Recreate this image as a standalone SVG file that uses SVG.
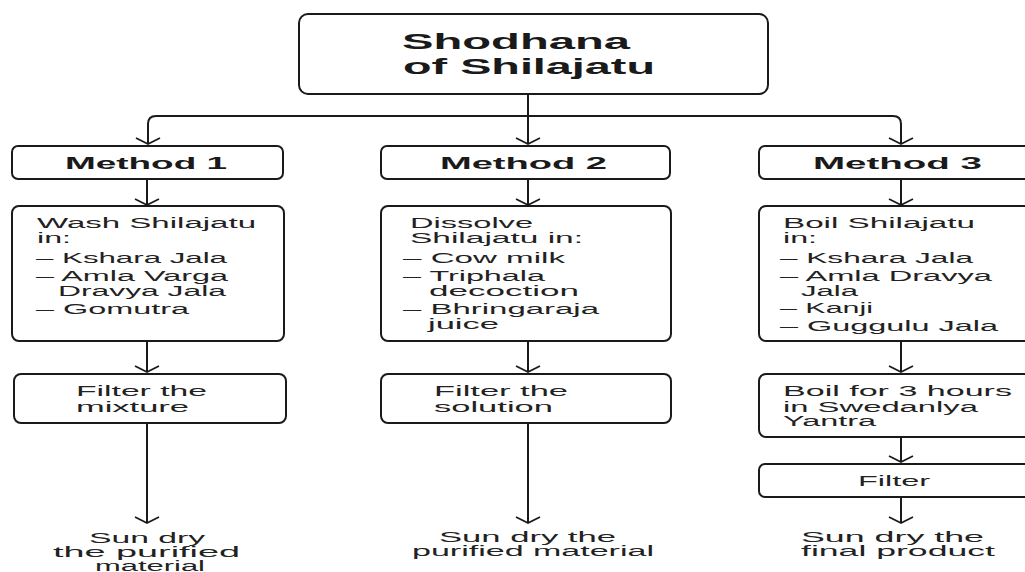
<svg xmlns="http://www.w3.org/2000/svg" width="1025" height="572" viewBox="0 0 1025 572">
<defs>
<style>
.box{fill:#fff;stroke:#1a1a1a;stroke-width:2}
.t{font-family:"Liberation Sans",Arial,sans-serif;fill:#1a1a1a}
.title{font-size:22px;font-weight:bold}
.m{font-size:17px;font-weight:bold}
.b{font-size:14px;fill:#222}
.c{fill:none;stroke:#1a1a1a;stroke-width:2}
</style>
<marker id="ah" markerUnits="userSpaceOnUse" markerWidth="30" markerHeight="30" viewBox="-15 -15 30 30" refX="0" refY="0" orient="auto">
<path d="M-6,-12 L0,0 L-6,12" fill="none" stroke="#1a1a1a" stroke-width="1.8"/>
</marker>
</defs>
<rect width="1025" height="572" fill="#fff"/>

<g id="connectors">
<path class="c" d="M528,94 V144" marker-end="url(#ah)"/>
<path class="c" d="M528,116 H156 Q148,116 148,124 V144" marker-end="url(#ah)"/>
<path class="c" d="M528,116 H893 Q901,116 901,124 V144" marker-end="url(#ah)"/>
<path class="c" d="M147,179 V205" marker-end="url(#ah)"/>
<path class="c" d="M528,179 V205" marker-end="url(#ah)"/>
<path class="c" d="M901,179 V205" marker-end="url(#ah)"/>
<path class="c" d="M147,341 V372" marker-end="url(#ah)"/>
<path class="c" d="M528,341 V372" marker-end="url(#ah)"/>
<path class="c" d="M901,341 V372" marker-end="url(#ah)"/>
<path class="c" d="M147,423 V523" marker-end="url(#ah)"/>
<path class="c" d="M528,423 V523" marker-end="url(#ah)"/>
<path class="c" d="M901,437 V462" marker-end="url(#ah)"/>
<path class="c" d="M901,497 V523" marker-end="url(#ah)"/>
</g>

<g id="title">
<rect class="box" x="299" y="14" width="469" height="80" rx="9"/>
<text class="t title" x="402" y="49" textLength="228" lengthAdjust="spacingAndGlyphs">Shodhana</text>
<text class="t title" x="403" y="74" textLength="252" lengthAdjust="spacingAndGlyphs">of Shilajatu</text>
</g>

<g id="method1">
<rect class="box" x="12" y="146" width="271" height="33" rx="6"/>
<text class="t m" x="65" y="169" textLength="162" lengthAdjust="spacingAndGlyphs">Method 1</text>
</g>
<g id="method2">
<rect class="box" x="381" y="146" width="289" height="33" rx="6"/>
<text class="t m" x="440" y="169" textLength="167" lengthAdjust="spacingAndGlyphs">Method 2</text>
</g>
<g id="method3">
<rect class="box" x="759" y="146" width="280" height="33" rx="6"/>
<text class="t m" x="813" y="169" textLength="169" lengthAdjust="spacingAndGlyphs">Method 3</text>
</g>

<g id="wash">
<rect class="box" x="12" y="206" width="272" height="135" rx="7"/>
<text class="t b" x="37" y="228" textLength="219" lengthAdjust="spacingAndGlyphs">Wash Shilajatu</text>
<text class="t b" x="37" y="243" textLength="34" lengthAdjust="spacingAndGlyphs">in:</text>
<text class="t b" x="36" y="263" textLength="191" lengthAdjust="spacingAndGlyphs">– Kshara Jala</text>
<text class="t b" x="36" y="281" textLength="192" lengthAdjust="spacingAndGlyphs">– Amla Varga</text>
<text class="t b" x="58" y="296" textLength="168" lengthAdjust="spacingAndGlyphs">Dravya Jala</text>
<text class="t b" x="36" y="314" textLength="153" lengthAdjust="spacingAndGlyphs">– Gomutra</text>
</g>

<g id="dissolve">
<rect class="box" x="381" y="206" width="290" height="135" rx="7"/>
<text class="t b" x="410" y="228" textLength="123" lengthAdjust="spacingAndGlyphs">Dissolve</text>
<text class="t b" x="410" y="243" textLength="173" lengthAdjust="spacingAndGlyphs">Shilajatu in:</text>
<text class="t b" x="403" y="263" textLength="162" lengthAdjust="spacingAndGlyphs">– Cow milk</text>
<text class="t b" x="403" y="281" textLength="142" lengthAdjust="spacingAndGlyphs">– Triphala</text>
<text class="t b" x="429" y="296" textLength="150" lengthAdjust="spacingAndGlyphs">decoction</text>
<text class="t b" x="403" y="314" textLength="196" lengthAdjust="spacingAndGlyphs">– Bhringaraja</text>
<text class="t b" x="428" y="329" textLength="71" lengthAdjust="spacingAndGlyphs">juice</text>
</g>

<g id="boil">
<rect class="box" x="759" y="206" width="280" height="135" rx="7"/>
<text class="t b" x="783" y="228" textLength="192" lengthAdjust="spacingAndGlyphs">Boil Shilajatu</text>
<text class="t b" x="783" y="243" textLength="34" lengthAdjust="spacingAndGlyphs">in:</text>
<text class="t b" x="780" y="263" textLength="193" lengthAdjust="spacingAndGlyphs">– Kshara Jala</text>
<text class="t b" x="780" y="281" textLength="212" lengthAdjust="spacingAndGlyphs">– Amla Dravya</text>
<text class="t b" x="801" y="296" textLength="57" lengthAdjust="spacingAndGlyphs">Jala</text>
<text class="t b" x="780" y="313" textLength="93" lengthAdjust="spacingAndGlyphs">– Kanji</text>
<text class="t b" x="780" y="331" textLength="218" lengthAdjust="spacingAndGlyphs">– Guggulu Jala</text>
</g>

<g id="filter1">
<rect class="box" x="14" y="374" width="272" height="49" rx="7"/>
<text class="t b" x="76" y="396" textLength="131" lengthAdjust="spacingAndGlyphs">Filter the</text>
<text class="t b" x="76" y="412" textLength="113" lengthAdjust="spacingAndGlyphs">mixture</text>
</g>
<g id="filter2">
<rect class="box" x="381" y="374" width="290" height="49" rx="7"/>
<text class="t b" x="434" y="396" textLength="134" lengthAdjust="spacingAndGlyphs">Filter the</text>
<text class="t b" x="434" y="412" textLength="119" lengthAdjust="spacingAndGlyphs">solution</text>
</g>
<g id="boil3h">
<rect class="box" x="759" y="374" width="280" height="63" rx="7"/>
<text class="t b" x="783" y="396" textLength="229" lengthAdjust="spacingAndGlyphs">Boil for 3 hours</text>
<text class="t b" x="783" y="412" textLength="195" lengthAdjust="spacingAndGlyphs">in Swedanlya</text>
<text class="t b" x="783" y="426" textLength="93" lengthAdjust="spacingAndGlyphs">Yantra</text>
</g>
<g id="filter3">
<rect class="box" x="759" y="464" width="280" height="33" rx="6"/>
<text class="t b" x="858" y="486" textLength="72" lengthAdjust="spacingAndGlyphs">Filter</text>
</g>

<g id="sundry1">
<text class="t b" x="89" y="543" textLength="116" lengthAdjust="spacingAndGlyphs">Sun dry</text>
<text class="t b" x="53" y="557" textLength="187" lengthAdjust="spacingAndGlyphs">the purified</text>
<text class="t b" x="95" y="571" textLength="110" lengthAdjust="spacingAndGlyphs">material</text>
</g>
<g id="sundry2">
<text class="t b" x="439" y="542" textLength="177" lengthAdjust="spacingAndGlyphs">Sun dry the</text>
<text class="t b" x="412" y="556" textLength="242" lengthAdjust="spacingAndGlyphs">purified material</text>
</g>
<g id="sundry3">
<text class="t b" x="801" y="542" textLength="183" lengthAdjust="spacingAndGlyphs">Sun dry the</text>
<text class="t b" x="801" y="556" textLength="194" lengthAdjust="spacingAndGlyphs">final product</text>
</g>
</svg>
